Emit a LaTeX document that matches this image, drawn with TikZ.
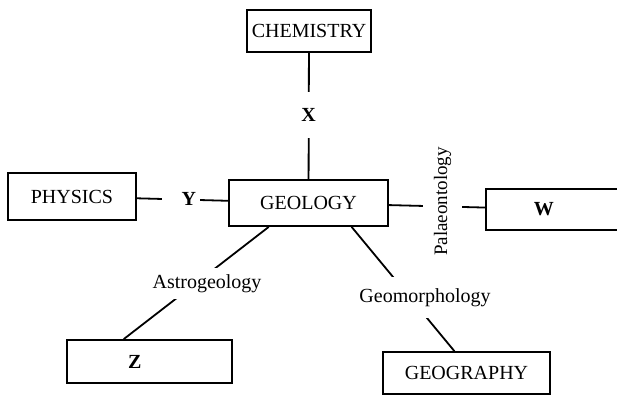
\documentclass[tikz,border=0pt]{standalone}
\usepackage{fontspec}
\setmainfont{Liberation Serif}
\usetikzlibrary{positioning}
\tikzset{
  subjectbox/.style={draw, line width=1.8pt, minimum height=42pt, inner sep=0pt,
    align=center, fill=white},
  link/.style={line width=1.8pt},
  linklabel/.style={fill=white, inner sep=0pt, font=\fontsize{20}{24}\selectfont\bfseries},
  branchlabel/.style={fill=white, inner xsep=2pt, font=\fontsize{20}{24}\selectfont}
}

\begin{document}
\begin{tikzpicture}[x=1pt, y=-1pt, font=\fontsize{20}{24}\selectfont]
\useasboundingbox (0,0) rectangle (617,397);
\clip (0,0) rectangle (617,397);
% subjects
\node[subjectbox, minimum width=124pt] (chem) at (309,31) {CHEMISTRY};
\node[subjectbox, minimum width=159pt, minimum height=46pt] (geo) at (308.5,203) {GEOLOGY};
\node[subjectbox, minimum width=128pt, minimum height=47pt] (phys) at (72,196.5) {PHYSICS};
\node[subjectbox, minimum height=43pt, text width=165pt, align=left] (z) at (149.5,361.5) {\hspace*{61pt}\textbf{Z}};
\node[subjectbox, minimum width=167pt, minimum height=42pt] (geog) at (466.5,373) {GEOGRAPHY};
\node[subjectbox, anchor=west, minimum height=41pt, text width=150pt, align=left] (w) at (485,209.5) {\hspace*{48pt}\textbf{W}};

% links
\draw[link] (chem) -- (geo);
\draw[link] (phys) -- (geo);
\draw[link] (geo) -- (w);
\draw[link] (geo.211) -- (z.139);
\draw[link] (geo.331) -- (geog.119);

% branch names
\node[linklabel, inner ysep=16.5pt] (x) at (308.5,115) {X};
\node[linklabel, text width=30pt, align=right, inner xsep=4pt, inner ysep=6pt] (y) at (181,199) {Y};
\node[branchlabel, rotate=90, font=\fontsize{19}{22}\selectfont, inner ysep=11pt] (palaeo) at (442.5,201.5) {Palaeontology};
\node[branchlabel, inner ysep=6.5pt] (astro) at (207,283.5) {Astrogeology};
\node[branchlabel, inner ysep=11.5pt] (geom) at (425,297.5) {Geomorphology};
\end{tikzpicture}
\end{document}
